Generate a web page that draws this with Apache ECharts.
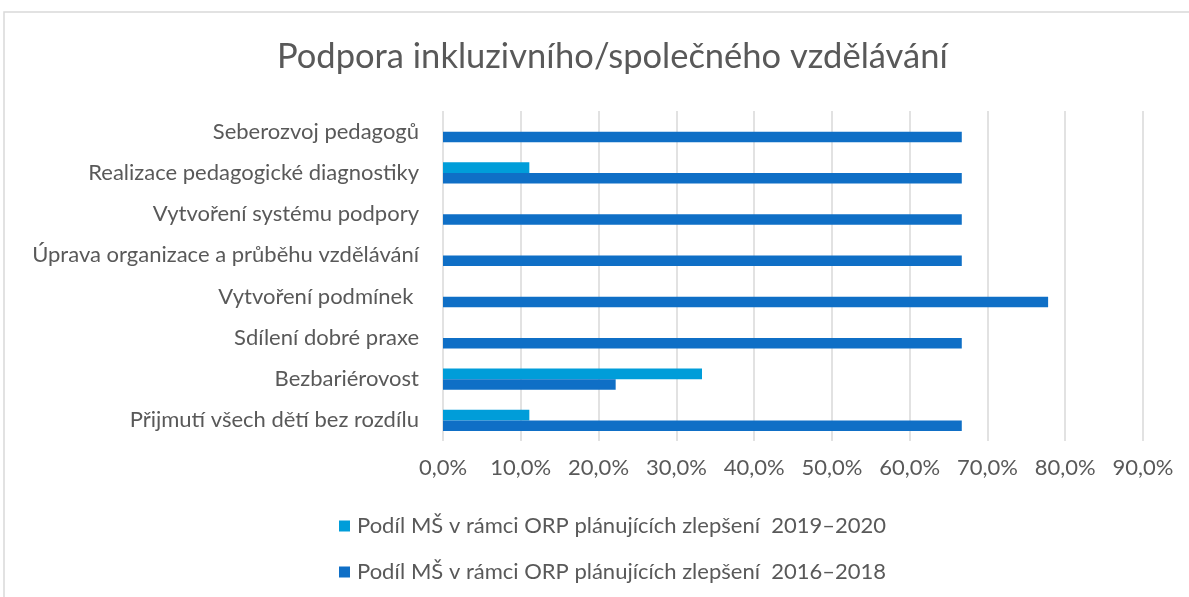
<!DOCTYPE html>
<html>
<head>
<meta charset="utf-8">
<script src="https://cdn.jsdelivr.net/npm/echarts@6/dist/echarts.min.js"></script>
<style>
html, body { margin: 0; padding: 0; background: #fff; }
#chart { width: 1189px; height: 597px; }
</style>
</head>
<body>
<div id="chart"></div>
<script>
// categories top to bottom, as in the picture
var categories = ['Seberozvoj pedagogů', 'Realizace pedagogické diagnostiky', 'Vytvoření systému podpory',
    'Úprava organizace a průběhu vzdělávání', 'Vytvoření podmínek ', 'Sdílení dobré praxe',
    'Bezbariérovost', 'Přijmutí všech dětí bez rozdílu'];
var share2019 = [0, 11.1, 0, 0, 0, 0, 33.3, 11.1];
var share2016 = [66.7, 66.7, 66.7, 66.7, 77.8, 66.7, 22.2, 66.7];
var name2019 = 'Podíl MŠ v rámci ORP plánujících zlepšení  2019–2020';
var name2016 = 'Podíl MŠ v rámci ORP plánujících zlepšení  2016–2018';

var txt = '#595959';
var font = 'Lato';

var myChart = echarts.init(document.getElementById('chart'));
var option = {
    backgroundColor: '#fff',
    textStyle: { fontFamily: font },
    title: {
        text: 'Podpora inkluzivního/společného vzdělávání',
        left: 272,
        top: 34,
        textStyle: { fontFamily: font, fontSize: 34.5, fontWeight: 'normal', color: txt }
    },
    graphic: [{
        type: 'rect',
        shape: { x: 4, y: 12, width: 1300, height: 700 },
        style: { fill: 'none', stroke: '#d9d9d9', lineWidth: 1.5 },
        silent: true,
        z: -10
    }],
    legend: {
        orient: 'vertical',
        left: 334,
        top: 510,
        itemGap: 24,
        itemWidth: 11,
        itemHeight: 11,
        icon: 'rect',
        data: [name2019, name2016],
        textStyle: { fontFamily: font, fontSize: 22, color: txt, padding: [0, 0, 0, 2] }
    },
    grid: {
        left: 443,
        right: 46,
        top: 111,
        bottom: 156
    },
    xAxis: {
        type: 'value',
        min: 0,
        max: 90,
        interval: 10,
        axisLine: { show: false },
        axisTick: { show: false },
        splitLine: { lineStyle: { color: '#d9d9d9', width: 1.5 } },
        axisLabel: {
            margin: 16,
            fontFamily: font,
            fontSize: 22,
            color: txt,
            formatter: function (v) { return v.toFixed(1).replace('.', ',') + '%'; }
        }
    },
    yAxis: {
        type: 'category',
        inverse: true,
        data: categories,
        axisLine: { show: false },
        axisTick: { show: false },
        axisLabel: { margin: 24, fontFamily: font, fontSize: 22, color: txt }
    },
    series: [
        {
            name: name2019,
            type: 'bar',
            data: share2019,
            barGap: '0%',
            barCategoryGap: '49%',
            itemStyle: { color: '#009DD9' }
        },
        {
            name: name2016,
            type: 'bar',
            data: share2016,
            barGap: '0%',
            barCategoryGap: '49%',
            itemStyle: { color: '#0F6FC6' }
        }
    ]
};
myChart.setOption(option);
</script>
</body>
</html>
